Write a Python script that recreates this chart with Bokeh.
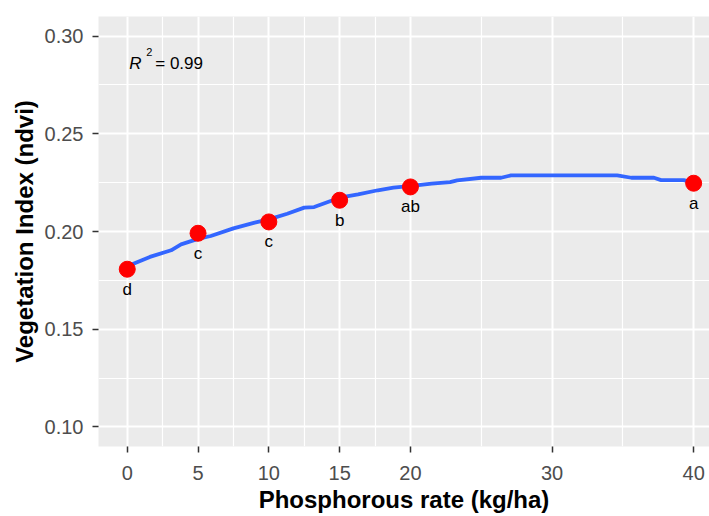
from bokeh.plotting import figure
from bokeh.models import Range1d, FixedTicker
from bokeh.core.properties import value
from bokeh.embed import file_html
from bokeh.resources import INLINE

# observed means
rate = [0, 5, 10, 15, 20, 40]
ndvi = [0.1807, 0.1991, 0.2049, 0.2160, 0.2228, 0.2247]
letters = ["d", "c", "c", "b", "ab", "a"]

# fitted curve
curve_x = [0, 1.6, 3.1, 3.8, 5.0, 5.9, 7.5, 9.0, 10.0, 11.3, 12.5, 13.2, 15.0, 16.3,
           17.7, 18.8, 20.1, 21.5, 22.8, 23.3, 25.0, 26.4, 27.1, 34.6, 35.6, 37.2,
           37.7, 39.3, 40.0]
curve_y = [0.1822, 0.1870, 0.1904, 0.1934, 0.1962, 0.1977, 0.2016, 0.2045, 0.2062,
           0.2091, 0.2122, 0.2125, 0.2173, 0.2190, 0.2211, 0.2224, 0.2233, 0.2245,
           0.2253, 0.2262, 0.2275, 0.2275, 0.2287, 0.2287, 0.2275, 0.2275, 0.2263,
           0.2263, 0.2250]

x_ticks = [0, 5, 10, 15, 20, 30, 40]
x_minor = [2.5, 7.5, 12.5, 17.5, 25, 35]
y_ticks = [0.10, 0.15, 0.20, 0.25, 0.30]
y_minor = [0.125, 0.175, 0.225, 0.275]

FONT = "Liberation Sans"

p = figure(frame_width=611, frame_height=430,
           x_range=Range1d(-2.03, 41.12), y_range=Range1d(0.09, 0.31),
           output_backend="svg", toolbar_location=None,
           min_border_left=98, min_border_right=0, min_border_top=16, min_border_bottom=70)
p.background_fill_color = "#EBEBEB"
p.border_fill_color = "white"
p.outline_line_color = None

p.xaxis.ticker = FixedTicker(ticks=x_ticks, minor_ticks=x_minor)
p.yaxis.ticker = FixedTicker(ticks=y_ticks, minor_ticks=y_minor)
p.yaxis.major_label_overrides = {t: f"{t:.2f}" for t in y_ticks}

for ax in (p.xaxis[0], p.yaxis[0]):
    ax.axis_line_color = None
    ax.major_tick_line_color = "#333333"
    ax.major_tick_line_width = 1.5
    ax.major_tick_out = 6
    ax.major_tick_in = 0
    ax.minor_tick_line_color = None
    ax.major_label_text_font = FONT
    ax.major_label_text_font_size = "20px"
    ax.major_label_text_color = "#4D4D4D"
    ax.axis_label_text_font = FONT
    ax.axis_label_text_font_size = "24px"
    ax.axis_label_text_font_style = "bold"
    ax.axis_label_text_color = "black"

p.xaxis.axis_label = "Phosphorous rate (kg/ha)"
p.yaxis.axis_label = "Vegetation Index (ndvi)"
p.xaxis.major_label_standoff = 13
p.yaxis.major_label_standoff = 9
p.xaxis.axis_label_standoff = 3
p.yaxis.axis_label_standoff = 4

for g in (p.xgrid[0], p.ygrid[0]):
    g.grid_line_color = "white"
    g.grid_line_width = 2
    g.minor_grid_line_color = "white"
    g.minor_grid_line_width = 1.2

p.line(curve_x, curve_y, line_color="#3366FF", line_width=3.8, line_join="round")
p.scatter(rate, ndvi, size=16, color="red")
p.text(rate, ndvi, text=letters, y_offset=20, text_align="center",
       text_baseline="middle", text_font=value(FONT), text_font_size="17px",
       text_color="black")

p.text([0], [0.2862], text=["R"], x_offset=2, text_font=value(FONT),
       text_font_style="italic", text_font_size="17px", text_baseline="alphabetic")
p.text([0], [0.2862], text=["2"], x_offset=19, y_offset=-11, text_font=value(FONT),
       text_font_size="11px", text_baseline="alphabetic")
p.text([0], [0.2862], text=["= 0.99"], x_offset=28, text_font=value(FONT),
       text_font_size="17px", text_baseline="alphabetic")

open("out.html", "w").write(file_html(p, INLINE))
